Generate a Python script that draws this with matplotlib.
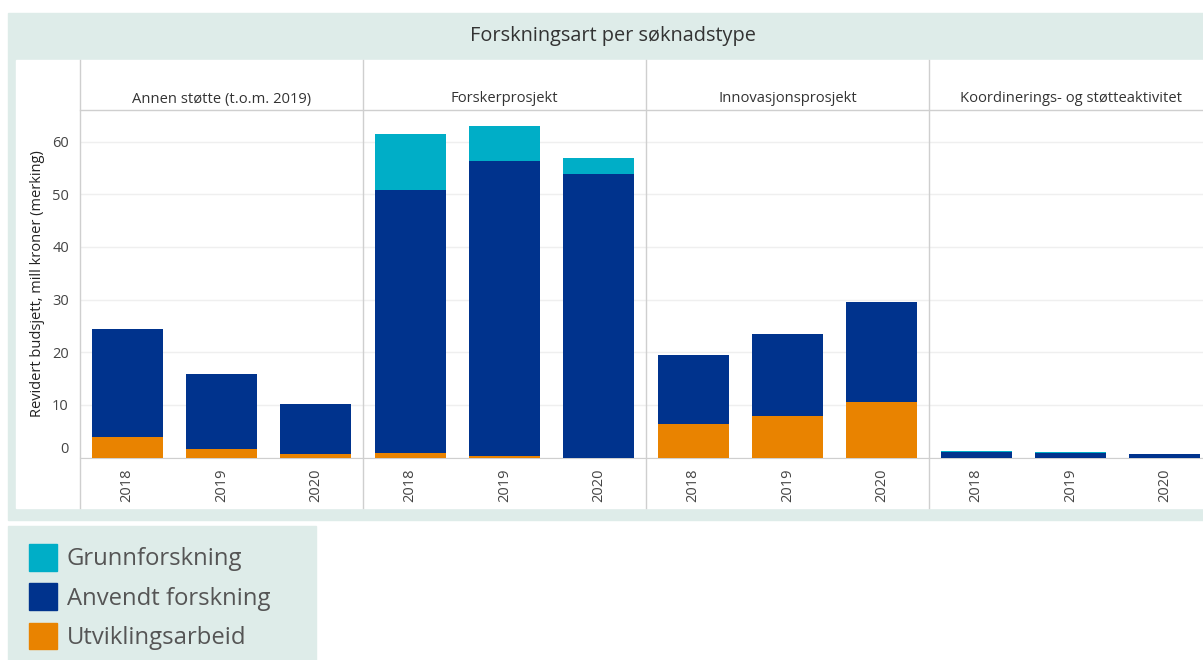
import matplotlib
matplotlib.use("Agg")
import matplotlib.pyplot as plt
import matplotlib.transforms as mtrans
from matplotlib.patches import Rectangle, Patch
import numpy as np

plt.rcParams['font.family'] = ['Open Sans', 'DejaVu Sans']

panels = ["Annen støtte (t.o.m. 2019)", "Forskerprosjekt",
          "Innovasjonsprosjekt", "Koordinerings- og støtteaktivitet"]
years = ["2018", "2019", "2020"]
series = ["Grunnforskning", "Anvendt forskning", "Utviklingsarbeid"]

# mill kroner, one row per panel, one value per year
utvikling = [[3.8, 1.7, 0.7], [0.8, 0.3, 0.0], [6.4, 7.9, 10.5], [0.0, 0.0, 0.0]]
anvendt = [[20.7, 14.2, 9.4], [50.0, 56.1, 53.9], [13.1, 15.5, 19.0], [1.0, 0.8, 0.75]]
grunn = [[0.0, 0.0, 0.0], [10.6, 6.6, 3.0], [0.0, 0.0, 0.0], [0.2, 0.2, 0.0]]

colors = {"Grunnforskning": "#00AEC7", "Anvendt forskning": "#00338D",
          "Utviklingsarbeid": "#E98300"}

W, H = 1203, 660
fig = plt.figure(figsize=(W / 100, H / 100), dpi=100)
fig.patch.set_facecolor("white")

def px(x, y, w, h):
    # pixel box (top-left origin) -> figure fraction
    return [x / W, 1 - (y + h) / H, w / W, h / H]

bg = "#DEECE9"
fig.patches.append(Rectangle((8 / W, 1 - 520 / H), (W - 8) / W, 507 / H,
                             transform=fig.transFigure, color=bg, zorder=-5))
fig.patches.append(Rectangle((16 / W, 1 - 508 / H), (W - 16) / W, 448 / H,
                             transform=fig.transFigure, color="white", zorder=-4))
fig.text(613 / W, 1 - 36 / H, "Forskningsart per søknadstype", ha="center",
         va="center", fontsize=14.3, color="#333333")

sep_color = "#CFCFCF"
left0, pw = 80, 283
top, base = 110, 457.5
x = np.arange(len(years))

for i, name in enumerate(panels):
    ax = fig.add_axes(px(left0 + i * pw, top, pw, base - top))
    u = np.array(utvikling[i])
    a = np.array(anvendt[i])
    g = np.array(grunn[i])
    ax.bar(x, u, 0.75, color=colors["Utviklingsarbeid"], zorder=3)
    ax.bar(x, a, 0.75, bottom=u, color=colors["Anvendt forskning"], zorder=3)
    ax.bar(x, g, 0.75, bottom=u + a, color=colors["Grunnforskning"], zorder=3)
    ax.set_xlim(-0.5, 2.5)
    ax.set_ylim(0, 66)
    ax.set_yticks(range(0, 61, 10))
    ax.grid(axis="y", color="#EFEFEF", lw=1, zorder=0)
    for s in ["top", "right", "left"]:
        ax.spines[s].set_visible(False)
    ax.spines["bottom"].set_color(sep_color)
    ax.set_xticks(x)
    ax.set_xticklabels(years, rotation=90, fontsize=10.5, color="#444444")
    ax.tick_params(axis="x", length=0, pad=8)
    if i == 0:
        ax.tick_params(axis="y", length=0, labelsize=10.5, labelcolor="#444444", pad=8)
        ax.set_ylabel("Revidert budsjett, mill kroner (merking)", fontsize=10.5,
                      color="#222222", labelpad=5)
        # lift the "0" label a little, as in the original
        lab0 = ax.get_yticklabels()[0]
        lab0.set_transform(lab0.get_transform() +
                           mtrans.ScaledTranslation(0, 0.10, fig.dpi_scale_trans))
    else:
        ax.tick_params(axis="y", length=0, labelleft=False)
    ax.set_facecolor("none")
    fig.text((left0 + i * pw + pw / 2) / W, 1 - 99 / H, name, ha="center",
             va="center", fontsize=10.6, color="#333333")

# panel separators and header line
for k in range(5):
    xs = (left0 + k * pw) / W
    fig.add_artist(plt.Line2D([xs, xs], [1 - 508 / H, 1 - 60 / H],
                              transform=fig.transFigure, color=sep_color, lw=1))
fig.add_artist(plt.Line2D([left0 / W, 1], [1 - top / H, 1 - top / H],
                          transform=fig.transFigure, color=sep_color, lw=1))

# legend
fig.patches.append(Rectangle((8 / W, 0), 308 / W, 134 / H,
                             transform=fig.transFigure, color=bg, zorder=-5))
handles = [Patch(color=colors[s]) for s in series]
fig.legend(handles, series, loc="upper left", bbox_to_anchor=(29 / W, 1 - 544 / H),
           frameon=False, fontsize=17.2, handlelength=1.17, handleheight=1.35,
           handletextpad=0.4, labelspacing=0.5, borderaxespad=0, borderpad=0,
           labelcolor="#555555")

fig.savefig("out.png", dpi=100)
